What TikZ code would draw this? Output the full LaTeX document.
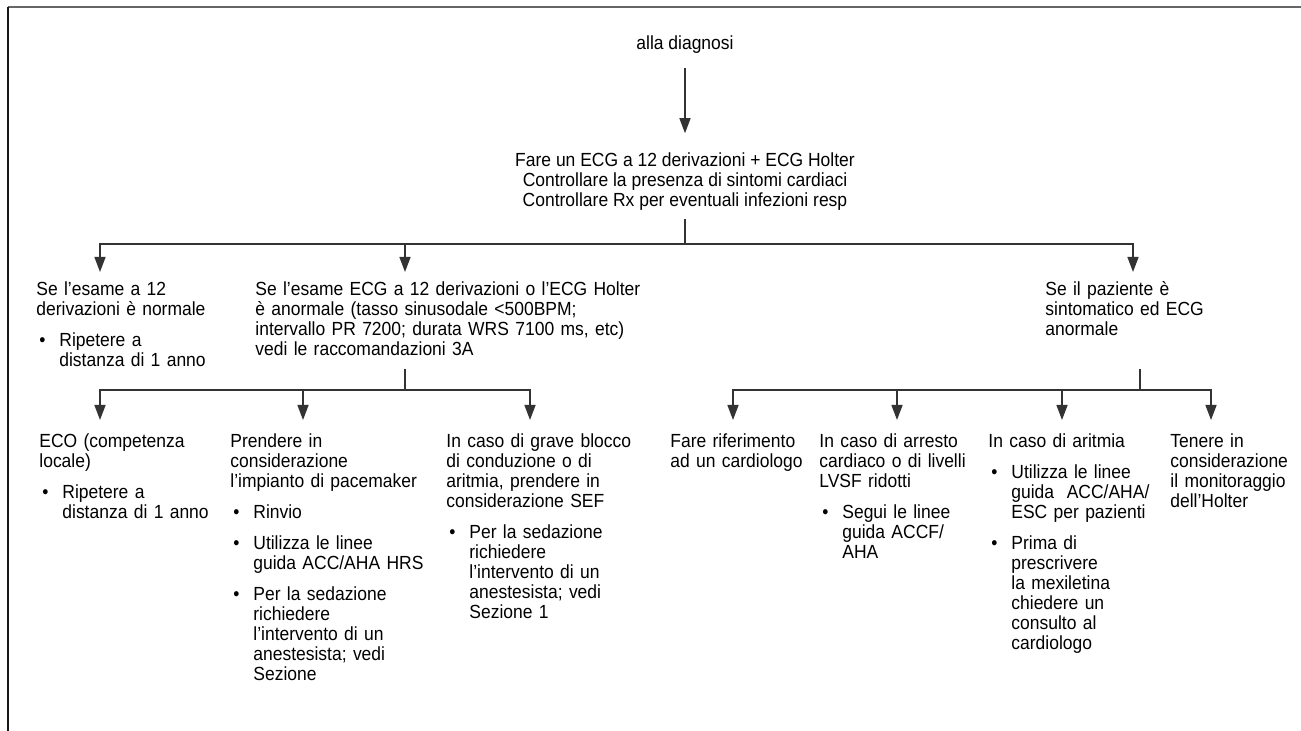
\documentclass[tikz,border=0pt]{standalone}
\usepackage{fontspec}
\setmainfont{Liberation Sans}[FakeStretch=0.92]
\usetikzlibrary{positioning, arrows.meta}

\newcommand{\dfont}{\fontsize{9.5pt}{10pt}\selectfont}
\newcommand{\bitem}{\par\vspace{5.5pt}\hangindent=11.5pt\hangafter=0\noindent\llap{\textbullet\hspace{7pt}}}

\begin{document}
\begin{tikzpicture}[x=0.5pt, y=-0.5pt,
	lbl/.style={inner sep=0pt, font=\dfont},
	col/.style={lbl, anchor=base west, align=left, text width=#1},
	ln/.style={draw=black!80, line width=0.7pt},
	arr/.style={ln, -{Triangle[length=7.5pt, width=5.5pt]}}]
	\useasboundingbox (0,0) rectangle (1301,731);
	\draw[black!60, line width=1.3pt] (8,7) -- (1301,7);
	\draw[black!90, line width=1pt] (8,7) -- (8,731);
	
	\node[lbl] (diag) at (685,45) {alla diagnosi};
	\node[lbl, align=center, below=49pt of diag] (check) {Fare un ECG a 12 derivazioni + ECG Holter\\Controllare la presenza di sintomi cardiaci\\Controllare Rx per eventuali infezioni resp};
	\draw[arr, shorten <=7pt, shorten >=9.5pt] (diag) -- (check);
	
	\coordinate (j1) at (685,244);
	\draw[ln, shorten <=4pt] (check) -- (j1);
	\foreach \n/\x in {t1/100, t2/405, t3/1133} {
		\coordinate (\n) at (\x,272);
		\draw[arr] (j1) -| (\n);
	}
	
	\node[col=95pt] (normal) at (36,296) {Se l’esame a 12\newline derivazioni è normale\bitem Ripetere a\newline distanza di 1 anno\par};
	\node[col=200pt] (abnormal) at (255,296) {Se l’esame ECG a 12 derivazioni o l’ECG Holter\newline è anormale (tasso sinusodale <500BPM;\newline intervallo PR 7200; durata WRS 7100 ms, etc)\newline vedi le raccomandazioni 3A\par};
	\node[col=120pt] (sympt) at (1045,296) {Se il paziente è\newline sintomatico ed ECG\newline anormale\par};
	
	\coordinate (j2) at (405,390);
	\coordinate (j3) at (1140,390);
	\draw[ln, shorten <=6pt] (j2 |- abnormal.south) -- (j2);
	\draw[ln, shorten <=16pt] (j3 |- sympt.south) -- (j3);
	\foreach \n/\x in {e1/100, e2/303, e3/530} {
		\coordinate (\n) at (\x,420);
		\draw[arr] (j2) -| (\n);
	}
	\foreach \n/\x in {e4/733, e5/897, e6/1062, e7/1211} {
		\coordinate (\n) at (\x,420);
		\draw[arr] (j3) -| (\n);
	}
	
	\node[col=92pt] (echo) at (39,448) {ECO (competenza\newline locale)\bitem Ripetere a\newline distanza di 1 anno\par};
	\node[col=105pt] (pacer) at (230,448) {Prendere in\newline considerazione\newline l’impianto di pacemaker\bitem Rinvio\bitem Utilizza le linee\newline guida ACC/AHA HRS\bitem Per la sedazione\newline richiedere\newline l’intervento di un\newline anestesista; vedi\newline Sezione\par};
	\node[col=107pt] (sef) at (446,448) {In caso di grave blocco\newline di conduzione o di\newline aritmia, prendere in\newline considerazione SEF\bitem Per la sedazione\newline richiedere\newline l’intervento di un\newline anestesista; vedi\newline Sezione 1\par};
	\node[col=72pt] (cardio) at (670,448) {Fare riferimento\newline ad un cardiologo\par};
	\node[col=82pt] (arrest) at (819,448) {In caso di arresto\newline cardiaco o di livelli\newline LVSF ridotti\bitem Segui le linee\newline guida ACCF/\newline AHA\par};
	\node[col=89pt] (arrhy) at (988,448) {In caso di aritmia\bitem Utilizza le linee\newline guida~ ACC/AHA/\newline ESC per pazienti\bitem Prima di\newline prescrivere\newline la mexiletina\newline chiedere un\newline consulto al\newline cardiologo\par};
	\node[col=64pt] (holter) at (1170,448) {Tenere in\newline considerazione\newline il monitoraggio\newline dell’Holter\par};
\end{tikzpicture}
\end{document}
